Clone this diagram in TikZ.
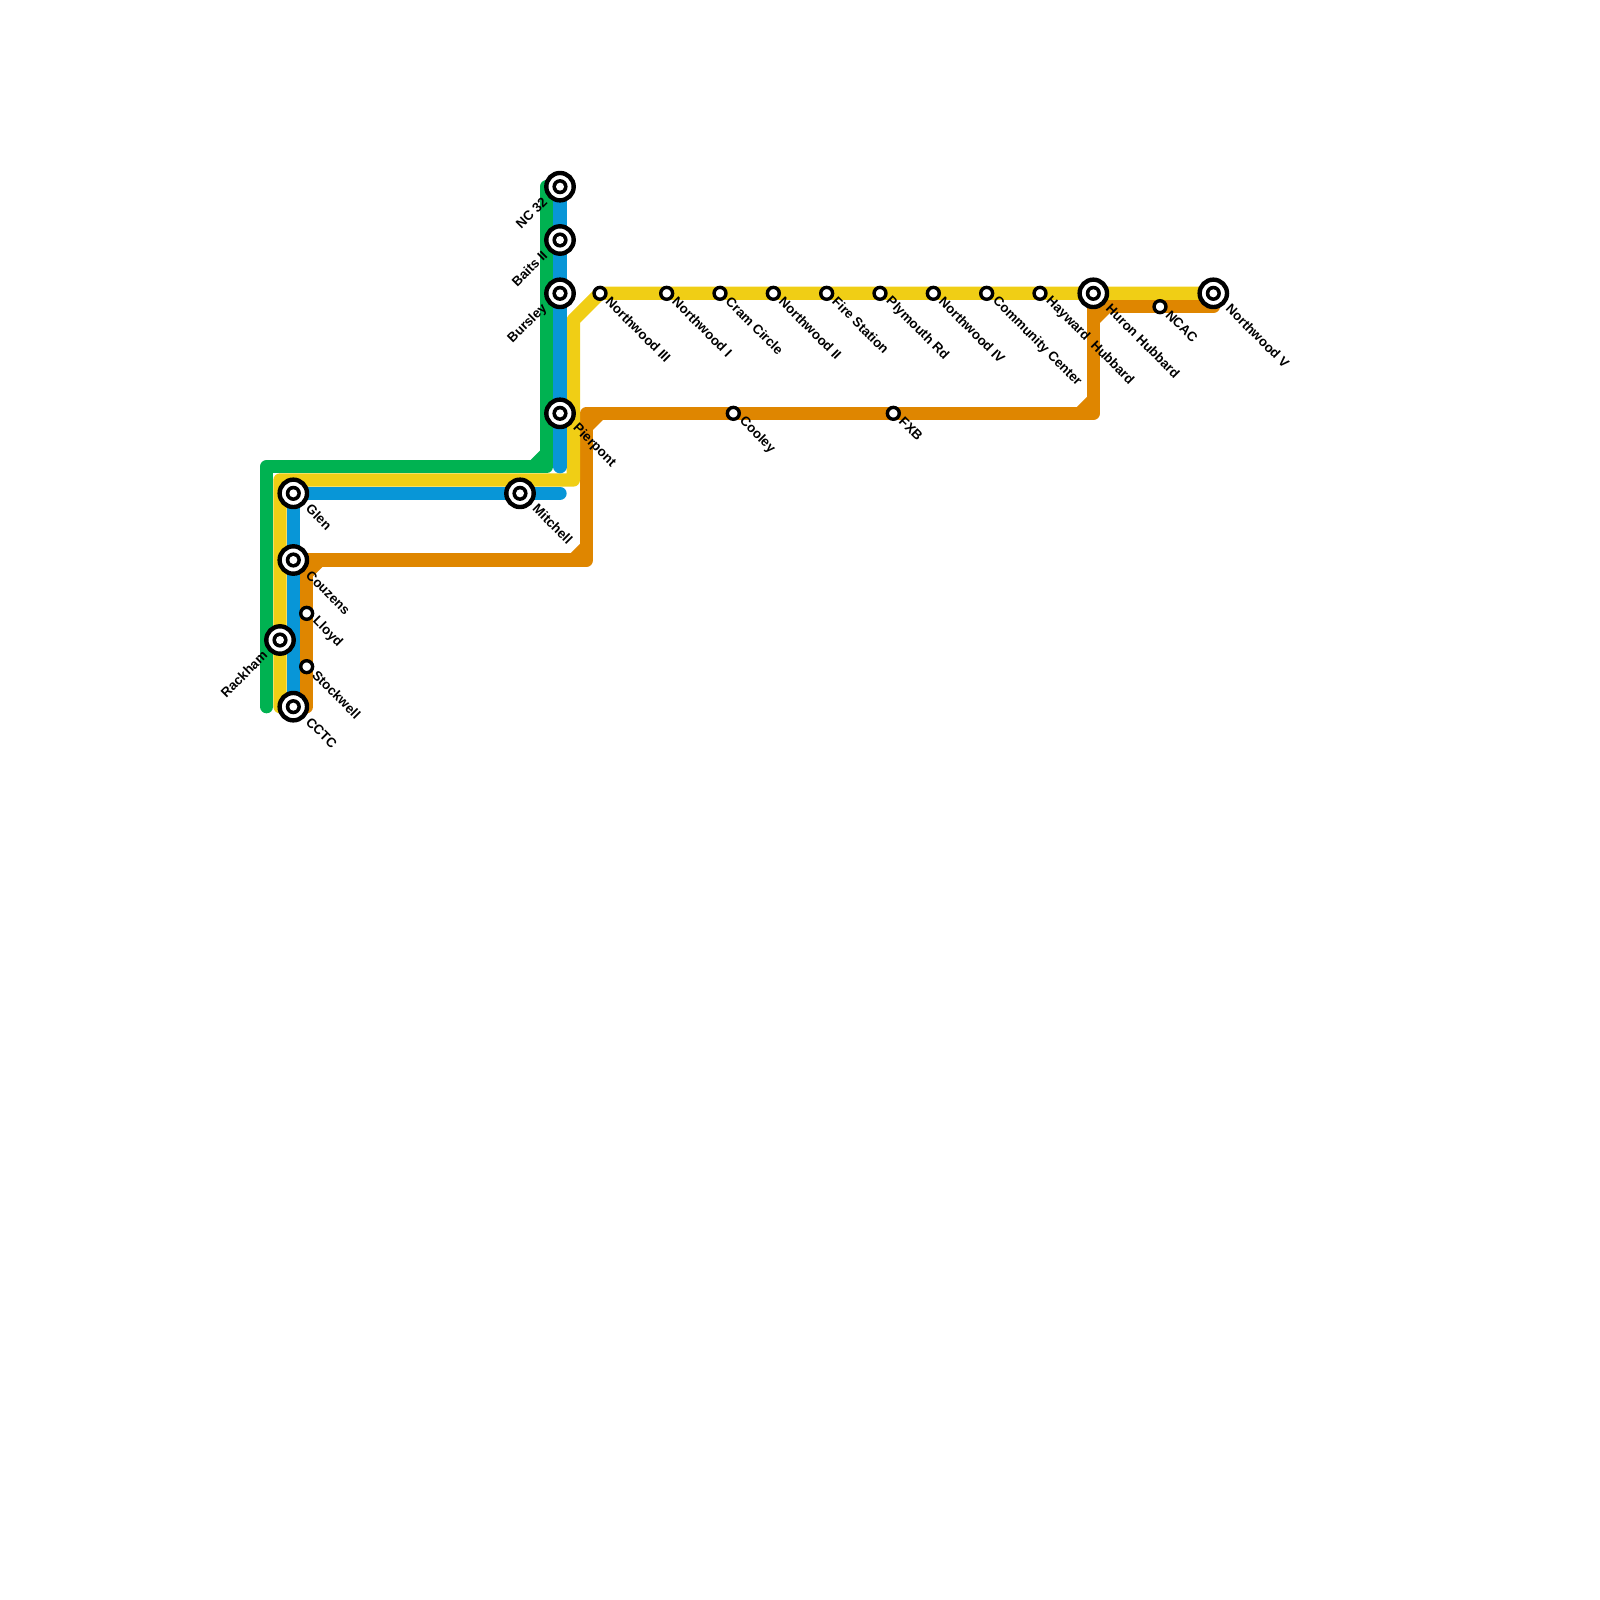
\documentclass[tikz,border=0pt]{standalone}
\usepackage{fontspec}
\setmainfont{Liberation Sans}
\usetikzlibrary{backgrounds,calc}
\definecolor{lgreen}{HTML}{00B251}
\definecolor{lyellow}{HTML}{F0CE15}
\definecolor{lblue}{HTML}{0896D7}
\definecolor{lorange}{HTML}{DF8600}
\tikzset{
  line/.style={line width=13.33pt,line cap=round,line join=round},
  big/.style={circle,draw=black,fill=white,line width=4.4pt,minimum size=27.4pt,inner sep=0pt,
    path picture={\fill[black] (path picture bounding box.center) circle[radius=7.6pt];
                  \fill[white] (path picture bounding box.center) circle[radius=4pt];}},
  small/.style={circle,draw=black,fill=white,line width=3.4pt,minimum size=11.9pt,inner sep=0pt},
  lab/.style={font=\fontsize{13.33pt}{13.33pt}\selectfont\bfseries,text=black,inner sep=0pt,rotate=-45,anchor=west},
  labl/.style={font=\fontsize{13.33pt}{13.33pt}\selectfont\bfseries,text=black,inner sep=0pt,rotate=45,anchor=east},
}
\begin{document}
\begin{tikzpicture}[x=1pt,y=-1pt]
\useasboundingbox (0,0) rectangle (1600,1600);
% stations
\node[big] (nc) at (560,186.67) {};
\node[big] (baits) at (560,240) {};
\node[big] (bursley) at (560,293.33) {};
\node[big] (pierpont) at (560,413.33) {};
\node[big] (mitchell) at (520,493.33) {};
\node[big] (glen) at (293.33,493.33) {};
\node[big] (couzens) at (293.33,560) {};
\node[big] (rackham) at (280,640) {};
\node[big] (cctc) at (293.33,706.67) {};
\node[small] (lloyd) at (306.67,613.33) {};
\node[small] (stockwell) at (306.67,666.67) {};
\node[small] (nw3) at (600,293.33) {};
\node[small] (nw1) at (666.67,293.33) {};
\node[small] (cram) at (720,293.33) {};
\node[small] (nw2) at (773.33,293.33) {};
\node[small] (fire) at (826.67,293.33) {};
\node[small] (plym) at (880,293.33) {};
\node[small] (nw4) at (933.33,293.33) {};
\node[small] (comm) at (986.67,293.33) {};
\node[small] (hayw) at (1040,293.33) {};
\node[big] (huron) at (1093.33,293.33) {};
\node[small] (ncac) at (1160,306.67) {};
\node[big] (nw5) at (1213.33,293.33) {};
\node[small] (cooley) at (733.33,413.33) {};
\node[small] (fxb) at (893.33,413.33) {};
% bends
\coordinate (g0) at (266.67,706.67);
\coordinate (g1) at (266.67,466.67);
\coordinate (g2) at (546.67,466.67);
\coordinate (g3) at (546.67,186.67);
\coordinate (g4) at (533.33,466.67);
\coordinate (g5) at (546.67,453.33);
\coordinate (y0) at (280,706.67);
\coordinate (y1) at (280,480);
\coordinate (y2) at (573.33,480);
\coordinate (y3) at (573.33,320);
\coordinate (b2) at (560,493.33);
\coordinate (b3) at (560,466.67);
\coordinate (o0) at (306.67,706.67);
\coordinate (o1) at (306.67,560);
\coordinate (o2) at (586.67,560);
\coordinate (o3) at (586.67,413.33);
\coordinate (o4) at (1093.33,413.33);
\coordinate (o5) at (1093.33,306.67);
\coordinate (o6) at (1213.33,306.67);
\coordinate (oa) at (306.67,573.33);
\coordinate (ob) at (320,560);
\coordinate (oc) at (573.33,560);
\coordinate (od) at (586.67,546.67);
\coordinate (oe) at (586.67,426.67);
\coordinate (of) at (600,413.33);
\coordinate (og) at (1080,413.33);
\coordinate (oh) at (1093.33,400);
\coordinate (oi) at (1093.33,320);
\coordinate (oj) at (1106.67,306.67);
\begin{scope}[on background layer]
\draw[line,lorange] (o0) -- (o1) -- (o2) -- (o3) -- (o4) -- (o5) -- (o6);
\draw[line,lorange,line cap=butt] (oa) -- (ob);
\draw[line,lorange,line cap=butt] (oc) -- (od);
\draw[line,lorange,line cap=butt] (oe) -- (of);
\draw[line,lorange,line cap=butt] (og) -- (oh);
\draw[line,lorange,line cap=butt] (oi) -- (oj);
\draw[line,lgreen] (g0) -- (g1) -- (g2) -- (g3);
\draw[line,lgreen,line cap=butt] (g4) -- (g5);
\draw[line,lyellow] (y0) -- (y1) -- (y2) -- (y3) -- (nw3.center) -- (nw5.center);
\draw[line,lblue] (cctc.center) -- (glen.center) -- (b2);
\draw[line,lblue] (nc.center) -- (b3);
\end{scope}
% labels
\node[labl] (t-nc) at ($(nc)+(-15,13)$) {NC 32};
\node[labl] (t-baits) at ($(baits)+(-15,13)$) {Baits II};
\node[labl] (t-bursley) at ($(bursley)+(-15,13)$) {Bursley};
\node[labl] (t-rackham) at ($(rackham)+(-15,13)$) {Rackham};
\node[lab] (t-pierpont) at ($(pierpont)+(15,13)$) {Pierpont};
\node[lab] (t-mitchell) at ($(mitchell)+(15,13)$) {Mitchell};
\node[lab] (t-glen) at ($(glen)+(15,13)$) {Glen};
\node[lab] (t-couzens) at ($(couzens)+(15,13)$) {Couzens};
\node[lab] (t-cctc) at ($(cctc)+(15,13)$) {CCTC};
\node[lab] (t-huron) at ($(huron)+(15,13)$) {Huron Hubbard};
\node[lab] (t-nw5) at ($(nw5)+(15,13)$) {Northwood V};
\node[lab] (t-lloyd) at ($(lloyd)+(8,6)$) {Lloyd};
\node[lab] (t-stockwell) at ($(stockwell)+(8,6)$) {Stockwell};
\node[lab] (t-nw3) at ($(nw3)+(8,6)$) {Northwood III};
\node[lab] (t-nw1) at ($(nw1)+(8,6)$) {Northwood I};
\node[lab] (t-cram) at ($(cram)+(8,6)$) {Cram Circle};
\node[lab] (t-nw2) at ($(nw2)+(8,6)$) {Northwood II};
\node[lab] (t-fire) at ($(fire)+(8,6)$) {Fire Station};
\node[lab] (t-plym) at ($(plym)+(8,6)$) {Plymouth Rd};
\node[lab] (t-nw4) at ($(nw4)+(8,6)$) {Northwood IV};
\node[lab] (t-comm) at ($(comm)+(8,6)$) {Community Center};
\node[lab] (t-hayw) at ($(hayw)+(8,6)$) {Hayward\ \ Hubbard};
\node[lab] (t-ncac) at ($(ncac)+(8,6)$) {NCAC};
\node[lab] (t-cooley) at ($(cooley)+(8,6)$) {Cooley};
\node[lab] (t-fxb) at ($(fxb)+(8,6)$) {FXB};
\end{tikzpicture}
\end{document}
